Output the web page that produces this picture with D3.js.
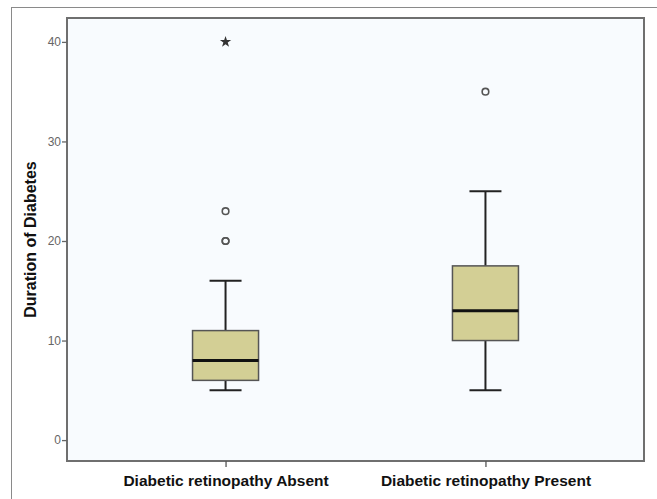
<!DOCTYPE html>
<html>
<head>
<meta charset="utf-8">
<script src="https://cdn.jsdelivr.net/npm/d3@7"></script>
<style>
  body { margin: 0; background: #fff; }
  text { font-family: "Liberation Sans", Arial, sans-serif; }
</style>
</head>
<body>
<div id="svg-area"></div>
<script>
// data
var categories = ["Diabetic retinopathy Absent", "Diabetic retinopathy Present"];
var whiskerLow = [5, 5];
var q1 = [6, 10];
var median = [8, 13];
var q3 = [11, 17.5];
var whiskerHigh = [16, 25];
// outliers (circles) and extremes (stars): group index + value
var outlierGroup = [0, 0, 0, 1];
var outlierValue = [20, 20, 23, 35];
var extremeGroup = [0];
var extremeValue = [40];
var yTicks = [0, 10, 20, 30, 40];

var svgWidth = 657;
var svgHeight = 499;

var margin = { top: 18, right: 13, bottom: 38, left: 67 };
var width = svgWidth - margin.left - margin.right;
var height = svgHeight - margin.top - margin.bottom;

var svg = d3.select("#svg-area")
  .append("svg")
  .attr("width", svgWidth)
  .attr("height", svgHeight);

// outer frame
svg.append("rect")
  .attr("x", 11.5).attr("y", 7.5)
  .attr("width", 660).attr("height", 500)
  .attr("fill", "none")
  .attr("stroke", "#8a8a8a")
  .attr("stroke-width", 1);

var chartGroup = svg.append("g")
  .attr("transform", `translate(${margin.left}, ${margin.top})`);

var xScale = d3.scalePoint()
  .domain(categories)
  .range([0, width])
  .padding(0.61);

var yScale = d3.scaleLinear()
  .domain([-2.1, 42.4])
  .range([height, 0]);

// plot background + border
chartGroup.append("rect")
  .attr("x", 0).attr("y", 0)
  .attr("width", width).attr("height", height)
  .attr("fill", "#f8fbfe")
  .attr("stroke", "#6f6f6f")
  .attr("stroke-width", 2);

// axes
var leftAxis = d3.axisLeft(yScale).tickValues(yTicks).tickSize(5).tickPadding(1);
var bottomAxis = d3.axisBottom(xScale).tickSize(6).tickPadding(8);

var yAxisG = chartGroup.append("g").call(leftAxis);
yAxisG.select(".domain").remove();
yAxisG.selectAll("line").attr("stroke", "#666").attr("stroke-width", 1.3);
yAxisG.selectAll("text")
  .attr("fill", "#666")
  .style("font-size", "12px");

var xAxisG = chartGroup.append("g")
  .attr("transform", `translate(0, ${height})`)
  .call(bottomAxis);
xAxisG.select(".domain").remove();
xAxisG.selectAll("line").attr("stroke", "#555").attr("stroke-width", 1.3);
xAxisG.selectAll("text")
  .attr("fill", "#111")
  .style("font-size", "15.5px")
  .style("font-weight", "bold");

// boxes
var boxHalf = 33;
var capHalf = 16;
var idx = d3.range(categories.length);

var boxes = chartGroup.selectAll(".box")
  .data(idx)
  .enter()
  .append("g")
  .attr("class", "box");

// whiskers
boxes.append("line")
  .attr("x1", i => xScale(categories[i]))
  .attr("x2", i => xScale(categories[i]))
  .attr("y1", i => yScale(whiskerHigh[i]))
  .attr("y2", i => yScale(q3[i]))
  .attr("stroke", "#222").attr("stroke-width", 2);
boxes.append("line")
  .attr("x1", i => xScale(categories[i]))
  .attr("x2", i => xScale(categories[i]))
  .attr("y1", i => yScale(q1[i]))
  .attr("y2", i => yScale(whiskerLow[i]))
  .attr("stroke", "#222").attr("stroke-width", 2);
// caps
boxes.append("line")
  .attr("x1", i => xScale(categories[i]) - capHalf)
  .attr("x2", i => xScale(categories[i]) + capHalf)
  .attr("y1", i => yScale(whiskerHigh[i]))
  .attr("y2", i => yScale(whiskerHigh[i]))
  .attr("stroke", "#222").attr("stroke-width", 2);
boxes.append("line")
  .attr("x1", i => xScale(categories[i]) - capHalf)
  .attr("x2", i => xScale(categories[i]) + capHalf)
  .attr("y1", i => yScale(whiskerLow[i]))
  .attr("y2", i => yScale(whiskerLow[i]))
  .attr("stroke", "#222").attr("stroke-width", 2);

boxes.append("rect")
  .attr("x", i => xScale(categories[i]) - boxHalf)
  .attr("y", i => yScale(q3[i]))
  .attr("width", boxHalf * 2)
  .attr("height", i => yScale(q1[i]) - yScale(q3[i]))
  .attr("fill", "#d3cf95")
  .attr("stroke", "#555")
  .attr("stroke-width", 1.5);

boxes.append("line")
  .attr("x1", i => xScale(categories[i]) - boxHalf)
  .attr("x2", i => xScale(categories[i]) + boxHalf)
  .attr("y1", i => yScale(median[i]))
  .attr("y2", i => yScale(median[i]))
  .attr("stroke", "#111").attr("stroke-width", 3);

// outliers
chartGroup.selectAll(".outlier")
  .data(outlierValue)
  .enter()
  .append("circle")
  .attr("class", "outlier")
  .attr("cx", (d, i) => xScale(categories[outlierGroup[i]]))
  .attr("cy", d => yScale(d))
  .attr("r", 3.3)
  .attr("fill", "none")
  .attr("stroke", "#555")
  .attr("stroke-width", 1.6);

// extremes
var star = d3.symbol().type(d3.symbolStar).size(40);
chartGroup.selectAll(".extreme")
  .data(extremeValue)
  .enter()
  .append("path")
  .attr("class", "extreme")
  .attr("d", star)
  .attr("transform", (d, i) => `translate(${xScale(categories[extremeGroup[i]])}, ${yScale(d)})`)
  .attr("fill", "#333");

// axis title
chartGroup.append("text")
  .attr("transform", "rotate(-90)")
  .attr("x", 0 - height / 2)
  .attr("y", 0 - margin.left + 36)
  .attr("text-anchor", "middle")
  .style("font-size", "16px")
  .style("font-weight", "bold")
  .attr("fill", "#111")
  .text("Duration of Diabetes");
</script>
</body>
</html>
